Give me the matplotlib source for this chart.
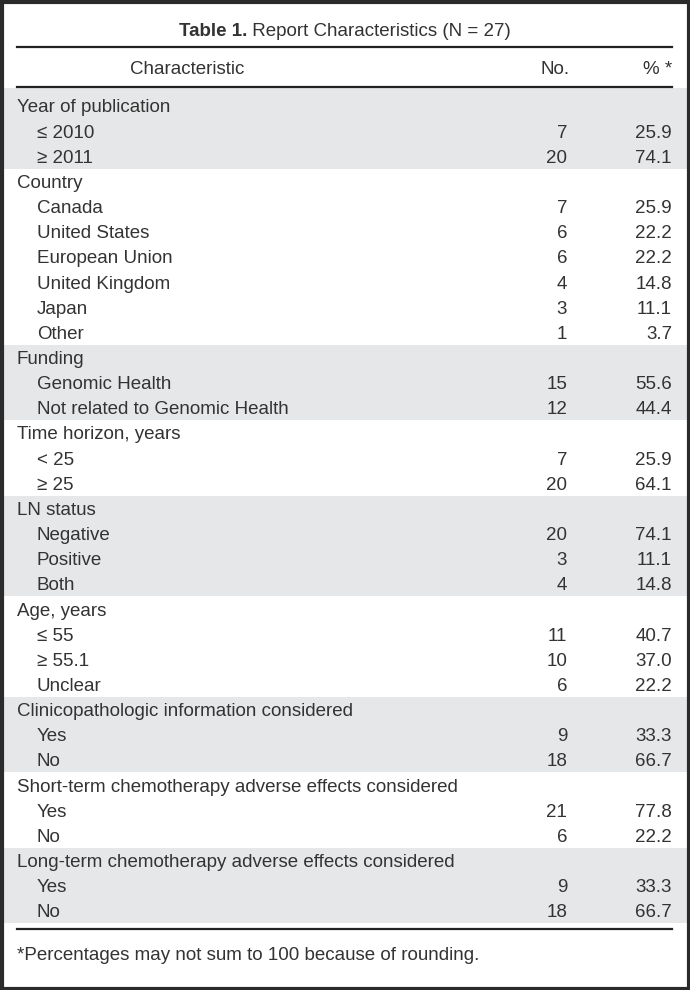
import matplotlib.pyplot as plt
from matplotlib.patches import Rectangle

title_bold = "Table 1."
title_rest = " Report Characteristics (N = 27)"
col_heads = ["Characteristic", "No.", "% *"]

group_titles = ["Year of publication", "Country", "Funding", "Time horizon, years",
                "LN status", "Age, years", "Clinicopathologic information considered",
                "Short-term chemotherapy adverse effects considered",
                "Long-term chemotherapy adverse effects considered"]
group_items = [
    ["≤ 2010", "≥ 2011"],
    ["Canada", "United States", "European Union", "United Kingdom", "Japan", "Other"],
    ["Genomic Health", "Not related to Genomic Health"],
    ["< 25", "≥ 25"],
    ["Negative", "Positive", "Both"],
    ["≤ 55", "≥ 55.1", "Unclear"],
    ["Yes", "No"],
    ["Yes", "No"],
    ["Yes", "No"],
]
group_no = [[7, 20], [7, 6, 6, 4, 3, 1], [15, 12], [7, 20], [20, 3, 4],
            [11, 10, 6], [9, 18], [21, 6], [9, 18]]
group_pct = [[25.9, 74.1], [25.9, 22.2, 22.2, 14.8, 11.1, 3.7], [55.6, 44.4],
             [25.9, 64.1], [74.1, 11.1, 14.8], [40.7, 37.0, 22.2], [33.3, 66.7],
             [77.8, 22.2], [33.3, 66.7]]
footnote = "*Percentages may not sum to 100 because of rounding."

W, H = 690, 990
txt = "#333333"
shade = "#e6e7e8"
fam = ["Liberation Sans Narrow", "Liberation Sans", "DejaVu Sans"]
fs = 13.5
dy = 2  # text sits a little lower than row centre

fig = plt.figure(figsize=(W / 100, H / 100), dpi=100)
ax = fig.add_axes([0, 0, 1, 1])
ax.set_xlim(0, W)
ax.set_ylim(H, 0)
ax.axis("off")

# frame
ax.add_patch(Rectangle((1.5, 1.5), W - 3, H - 3, fill=False, ec="#2b2b2b", lw=3))

x0, x1 = 17, 672
x_no = 567
row_h = 25.15
y_first = 106

# title
t1 = ax.text(0, 30 + dy, title_bold, fontsize=fs, fontweight="bold", family=fam,
             color=txt, va="center", ha="left")
t2 = ax.text(0, 30 + dy, title_rest, fontsize=fs, family=fam, color=txt,
             va="center", ha="left")
fig.canvas.draw()
r = fig.canvas.get_renderer()
w1 = t1.get_window_extent(r).width
w2 = t2.get_window_extent(r).width
start = W / 2 - (w1 + w2) / 2
t1.set_x(start)
t2.set_x(start + w1)

ax.plot([x0, x1], [46.5, 46.5], color="#222222", lw=1.6)
ax.text(187, 68 + dy, col_heads[0], fontsize=fs, family=fam, color=txt, ha="center", va="center")
ax.text(555, 68 + dy, col_heads[1], fontsize=fs, family=fam, color=txt, ha="center", va="center")
ax.text(x1, 68 + dy, col_heads[2], fontsize=fs, family=fam, color=txt, ha="right", va="center")
ax.plot([x0, x1], [87, 87], color="#222222", lw=1.6)

i = 0
for g, title in enumerate(group_titles):
    n = 1 + len(group_items[g])
    top = y_first + (i - 0.5) * row_h
    if g == 0:
        top = 88
    if g % 2 == 0:
        bottom = y_first + (i + n - 0.5) * row_h
        ax.add_patch(Rectangle((3, top), W - 6, bottom - top, fc=shade, ec="none", zorder=0))
    ax.text(x0, y_first + i * row_h + dy, title, fontsize=fs, family=fam, color=txt, va="center")
    i += 1
    for lab, no, pct in zip(group_items[g], group_no[g], group_pct[g]):
        y = y_first + i * row_h + dy
        ax.text(x0 + 20, y, lab, fontsize=fs, family=fam, color=txt, va="center")
        ax.text(x_no, y, str(no), fontsize=fs, family=fam, color=txt, va="center", ha="right")
        ax.text(x1, y, f"{pct:.1f}", fontsize=fs, family=fam, color=txt, va="center", ha="right")
        i += 1

ax.plot([x0, x1], [929, 929], color="#222222", lw=1.6)
ax.text(x0, 953 + dy, footnote, fontsize=fs, family=fam, color=txt, va="center")

fig.savefig("out.png", dpi=100)
